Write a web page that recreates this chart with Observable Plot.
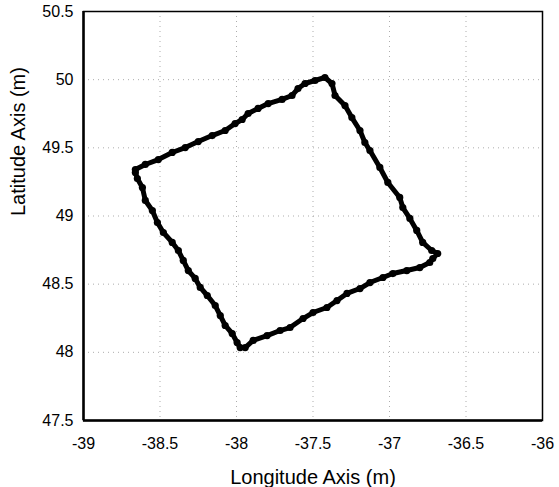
<!DOCTYPE html>
<html>
<head>
<meta charset="utf-8">
<script src="https://cdn.jsdelivr.net/npm/d3@7"></script>
<script src="https://cdn.jsdelivr.net/npm/@observablehq/plot@0.6"></script>
<style>
  html, body { margin: 0; padding: 0; background: #fff; }
  #chart { width: 559px; height: 487px; }
</style>
</head>
<body>
<div id="chart"></div>
<script>
// Track readings (longitude, latitude), in order around the loop
const lon = [
  -38.661, -38.596, -38.511, -38.420, -38.335, -38.250, -38.159, -38.074, -38.009, -37.963,
  -37.924, -37.859, -37.793, -37.702, -37.637, -37.598, -37.552, -37.487, -37.422,
  -37.376, -37.356, -37.291, -37.246, -37.193, -37.161, -37.128, -37.063, -37.011, -36.933,
  -36.913, -36.867, -36.822, -36.783, -36.724, -36.685,
  -36.717, -36.737, -36.802, -36.887, -36.978, -37.043, -37.128, -37.193, -37.278, -37.343,
  -37.409, -37.500, -37.565, -37.650, -37.715, -37.800, -37.891, -37.943, -37.976,
  -37.996, -38.028, -38.074, -38.106, -38.139, -38.191, -38.237, -38.270, -38.315, -38.348,
  -38.380, -38.420, -38.478, -38.517, -38.550, -38.596, -38.615, -38.648, -38.661
];
const lat = [
  49.341, 49.378, 49.414, 49.466, 49.502, 49.546, 49.590, 49.627, 49.678, 49.708,
  49.752, 49.789, 49.825, 49.855, 49.884, 49.935, 49.972, 49.994, 50.016,
  49.972, 49.884, 49.810, 49.722, 49.627, 49.539, 49.480, 49.356, 49.246, 49.136,
  49.062, 48.982, 48.894, 48.806, 48.747, 48.725,
  48.688, 48.659, 48.622, 48.600, 48.578, 48.549, 48.512, 48.468, 48.432, 48.380,
  48.329, 48.292, 48.248, 48.182, 48.160, 48.123, 48.087, 48.035, 48.035,
  48.072, 48.138, 48.197, 48.270, 48.343, 48.417, 48.476, 48.542, 48.600, 48.674,
  48.747, 48.806, 48.879, 48.952, 49.040, 49.114, 49.209, 49.275, 49.319
];
const xTicks = [-39, -38.5, -38, -37.5, -37, -36.5, -36];
const yTicks = [47.5, 48, 48.5, 49, 49.5, 50, 50.5];
const xTitle = "Longitude Axis (m)";
const yTitle = "Latitude Axis (m)";

const track = lon.map((x, i) => ({x, y: lat[i]}));

const chart = Plot.plot({
  width: 559,
  height: 487,
  marginLeft: 83,
  marginRight: 17,
  marginTop: 11,
  marginBottom: 67,
  style: {fontFamily: "'Liberation Sans', Arial, sans-serif", background: "#fff", color: "#000"},
  x: {domain: [-39, -36], ticks: xTicks, tickFormat: d => String(d), label: null},
  y: {domain: [47.5, 50.5], ticks: yTicks, tickFormat: d => String(d), label: null},
  marks: [
    Plot.gridX(xTicks, {stroke: "#999", strokeOpacity: 0.8, strokeDasharray: "1,4"}),
    Plot.gridY(yTicks, {stroke: "#999", strokeOpacity: 0.8, strokeDasharray: "1,4"}),
    Plot.axisX(xTicks, {tickSize: 0, tickPadding: 17, fontSize: 16, tickFormat: d => String(d), label: null}),
    Plot.axisY(yTicks, {tickSize: 0, tickPadding: 10, fontSize: 16, tickFormat: d => String(d), label: null}),
    Plot.frame({stroke: "#000", strokeWidth: 1.5}),
    Plot.ruleX([-39], {stroke: "#000", strokeWidth: 2.5}),
    Plot.ruleY([47.5], {stroke: "#000", strokeWidth: 2.5}),
    Plot.line(track, {x: "x", y: "y", stroke: "#000", strokeWidth: 5, curve: "linear", strokeLinejoin: "round"}),
    Plot.dot(track, {x: "x", y: "y", r: 3.6, fill: "#000", stroke: null}),
    Plot.text([xTitle], {frameAnchor: "bottom", dy: 57, fontSize: 20, fill: "#000", lineAnchor: "middle"}),
    Plot.text([yTitle], {frameAnchor: "left", dx: -65, rotate: -90, fontSize: 20, fill: "#000", lineAnchor: "middle"})
  ]
});
document.getElementById("chart").appendChild(chart);
</script>
</body>
</html>
